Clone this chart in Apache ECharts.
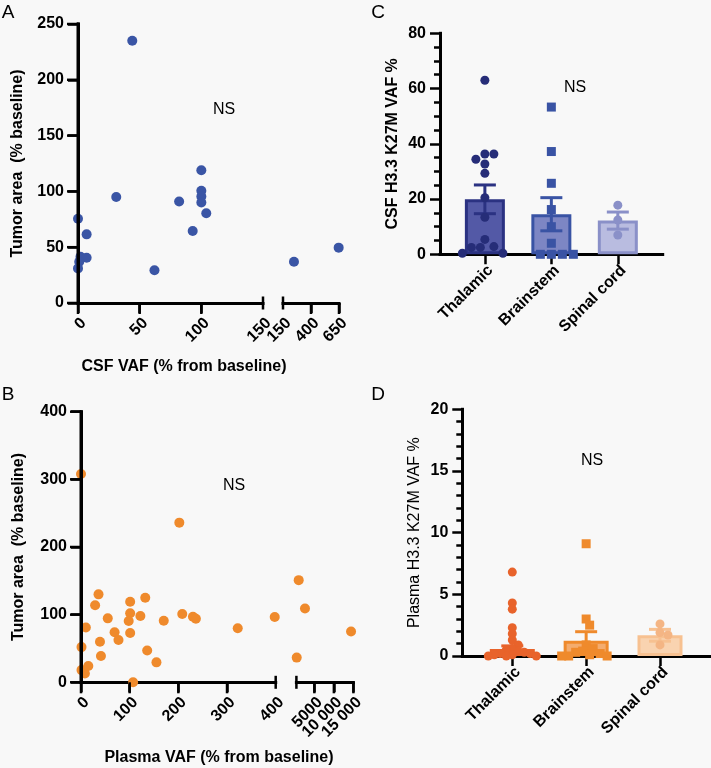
<!DOCTYPE html>
<html><head><meta charset="utf-8">
<script src="https://cdn.jsdelivr.net/npm/echarts@6/dist/echarts.min.js"></script>
<style>html,body{margin:0;padding:0;background:#f8f8f8}#c{width:711px;height:768px}</style>
</head><body><div id="c"></div>
<script>
// ---------- DATA ----------
// Panel A: CSF VAF (% from baseline) vs tumor area (% baseline)
const csfVafLow = [44, 100, 100, 100, 100, 104, 82, 93, 31, 0, 7, 2, 7, 1, 0, 62];
const tumorCsfLow = [235, 119, 100.5, 95.5, 90, 80.5, 91, 64.5, 95, 75.5, 61.5, 41.5, 40.6, 37, 31, 29.3];
const csfVafHigh = [248, 647];
const tumorCsfHigh = [37, 49.6];
const csfLowTicks = [0, 50, 100, 150];
const csfHighTicks = [150, 400, 650];
const csfBreak = 150;
const tumorTicksA = [0, 50, 100, 150, 200, 250];

// Panel B: Plasma VAF (% from baseline) vs tumor area (% baseline)
const plasmaVafLow = [0, 202, 1, 10, 1, 8, 15, 36, 29, 55, 39, 41, 69, 77, 101, 101, 101, 98, 122, 132, 107, 136, 155, 170, 208, 230, 236, 322, 398];
const tumorPlasmaLow = [308, 236, 52, 81, 18, 13, 24, 130, 114, 94.5, 60, 39, 74, 62.5, 73, 119, 102, 90.5, 98, 125, 0, 47, 29.5, 91, 101, 97, 94, 80, 96.5];
const plasmaVafHigh = [990, 2600, 480, 14400];
const tumorPlasmaHigh = [151, 109, 36.5, 75];
const plasmaLowTicks = [0, 100, 200, 300, 400];
const plasmaHighTicks = [5000, 10000, 15000];
const plasmaHighLabels = ['5000', '10 000', '15 000'];
const plasmaBreak = 400;
const tumorTicksB = [0, 100, 200, 300, 400];

// Panels C & D: by tumour location
const regions = ['Thalamic', 'Brainstem', 'Spinal cord'];
const csfThalamic = [63, 36.3, 36.3, 34.4, 32.7, 29.3, 20.5, 13.4, 5.4, 2.8, 2.5, 2.5, 0.4, 0.4];
const csfBrainstem = [53.3, 37.2, 25.7, 16.2, 10, 4, 0, 0, 0, 0];
const csfSpinal = [17.8, 12.4, 7];
const csfMean = [19.9, 14.5, 12.2];
const csfSem = [5.2, 6.0, 3.1];

const plasmaThalamic = [6.8, 4.3, 3.8, 2.3, 1.8, 1.3, 0.9, 0.6, 0.5, 0.4, 0.3, 0.2, 0.2, 0.1, 0.1, 0, 0, 0];
const plasmaBrainstem = [9.1, 3.0, 2.5, 0.9, 0.6, 0.4, 0.3, 0.2, 0.1, 0, 0, 0];
const plasmaSpinal = [2.6, 1.9, 1.7, 0.9];
const plasmaMean = [0.56, 1.24, 1.68];
const plasmaSem = [0.26, 0.73, 0.48];

// ---------- STYLE ----------
const FONT = '"Liberation Sans", Arial, Helvetica, sans-serif';
const BLUE = '#3a55a5', ORANGE = '#ef8a2c';
const cDot = ['#262d78', '#3953a4', '#8a90c8'];
const cBorder = ['#2b3282', '#3953a4', '#8a90c8'];
const cFill = ['#5359a6', '#7d86c4', '#b9bce0'];
const dDot = ['#e8632b', '#ef8a2c', '#f4b584'];
const dBorder = ['#e8632b', '#ef8a2c', '#f7c191'];
const dFill = ['#ec7a45', '#f4ac6e', '#f9d3b0'];

const G = {
  A1: {left: 78, top: 24, width: 185, height: 279},
  A2: {left: 283, top: 24, width: 56, height: 279},
  B1: {left: 81, top: 411.7, width: 194.7, height: 270.6},
  B2: {left: 296.4, top: 411.7, width: 57, height: 270.6},
  C: {left: 440, top: 33.3, width: 222.7, height: 221},
  D: {left: 462.3, top: 409.3, width: 247.7, height: 246.7}
};
const cRange = [-0.675, 2.675], dRange = [-0.677, 2.677];

const lbl = () => ({color: '#000', fontSize: 16, fontWeight: 'bold', fontFamily: FONT});
const line = () => ({show: true, onZero: false, lineStyle: {color: '#000', width: 3, cap: 'square'}});
function ticks(values, len) {
  return {show: true, length: len, customValues: values, lineStyle: {color: '#000', width: 2.5}};
}
function mainX(grid, min, max, tickVals, labelVals, fmt, margin) {
  return {gridIndex: grid, type: 'value', min, max, position: 'bottom', axisLine: line(),
    axisTick: ticks(tickVals, 10),
    axisLabel: Object.assign(lbl(), {show: !!labelVals, customValues: labelVals || [], rotate: 45, margin: margin,
      verticalAlign: 'top', interval: 0, hideOverlap: false, showMinLabel: true, showMaxLabel: true,
      formatter: fmt || (v => String(v))}),
    splitLine: {show: false}};
}
function valY(grid, min, max, interval, name, gap, bold, minorSplit) {
  const o = {gridIndex: grid, type: 'value', min, max, interval, position: 'left', axisLine: line(),
    axisTick: {show: true, length: 10, lineStyle: {color: '#000', width: 2.5}},
    axisLabel: Object.assign(lbl(), {margin: 14}), splitLine: {show: false},
    name, nameLocation: 'middle', nameGap: gap,
    nameTextStyle: {color: '#000', fontSize: 16, fontWeight: bold ? 'bold' : 'normal', fontFamily: FONT}};
  if (minorSplit) o.minorTick = {show: true, splitNumber: minorSplit, length: 6, lineStyle: {color: '#000', width: 2.5}};
  return o;
}
function hiddenY(grid, min, max) {
  return {gridIndex: grid, type: 'value', min, max, position: 'left',
    axisLine: {show: false, onZero: false}, axisTick: {show: false}, axisLabel: {show: false}, splitLine: {show: false}};
}
const zip = (a, b) => a.map((v, i) => [v, b[i]]);

// simple beeswarm layout (pixel based) for dot columns
function swarm(values, center, pxX, pxY, sep) {
  const step = sep / 2, placed = [], out = [];
  const order = values.map((v, i) => i).sort((a, b) => values[b] - values[a]);
  for (const i of order) {
    const py = values[i] * pxY;
    let px = 0;
    for (let n = 0; n < 80; n++) {
      const k = n === 0 ? 0 : (n % 2 ? Math.ceil(n / 2) : -Math.ceil(n / 2));
      const cand = k * step;
      if (placed.every(p => Math.hypot(p[0] - cand, p[1] - py) >= sep - 0.01)) { px = cand; break; }
    }
    placed.push([px, py]);
    out.push([center + px / pxX, values[i]]);
  }
  return out;
}
const cPX = G.C.width / (cRange[1] - cRange[0]), cPY = G.C.height / 80;
const dPX = G.D.width / (dRange[1] - dRange[0]), dPY = G.D.height / 20;

function barSeries(xi, yi, means, fills, borders, width) {
  return {type: 'bar', xAxisIndex: xi, yAxisIndex: yi, barWidth: width, z: 2,
    data: means.map((m, i) => ({value: [i, m], itemStyle: {color: fills[i], borderColor: borders[i], borderWidth: 3}}))};
}
function errSeries(xi, yi, means, sems, colors, capHalf) {
  return {type: 'custom', xAxisIndex: xi, yAxisIndex: yi, z: 3,
    data: means.map((m, i) => [i, m + sems[i], m - sems[i]]),
    renderItem(params, api) {
      const t = api.coord([api.value(0), api.value(1)]);
      const b = api.coord([api.value(0), api.value(2)]);
      const st = {stroke: colors[params.dataIndex], lineWidth: 3};
      return {type: 'group', children: [
        {type: 'line', shape: {x1: t[0], y1: t[1], x2: b[0], y2: b[1]}, style: st},
        {type: 'line', shape: {x1: t[0] - capHalf, y1: t[1], x2: t[0] + capHalf, y2: t[1]}, style: st},
        {type: 'line', shape: {x1: b[0] - capHalf, y1: b[1], x2: b[0] + capHalf, y2: b[1]}, style: st}
      ]};
    }};
}
// axis frame for the broken-axis scatter panels (y line + ticks, x ticks, break caps),
// positioned through the axis scales and painted on its own layer
function frame(xi, yi, xr, yr, yTicks, xTicks, caps) {
  return {type: 'custom', xAxisIndex: xi, yAxisIndex: yi, zlevel: 2, z: 10, silent: true, clip: false,
    data: [[xr[0], yr[0]]],
    renderItem(p, api) {
      const o = api.coord([xr[0], yr[0]]);
      const kids = [];
      const R = (x, y, w, h) => kids.push({type: 'rect', shape: {x, y, width: w, height: h}, style: {fill: '#000', opacity: 1}});
      if (yTicks) {
        const top = api.coord([xr[0], yr[1]]);
        R(o[0] - 1.5, top[1] - 1.5, 3, o[1] - top[1] + 3);
        yTicks.forEach(v => { const c = api.coord([xr[0], v]); R(o[0] - 11, c[1] - 1.25, 11, 2.5); });
      }
      (xTicks || []).forEach(v => { const c = api.coord([v, yr[0]]); R(c[0] - 1.25, o[1], 2.5, 11); });
      (caps || []).forEach(v => { const c = api.coord([v, yr[0]]); R(c[0] - 1.25, o[1] - 6.5, 2.5, 13); });
      return {type: 'group', children: kids};
    }};
}
// tick labels that are allowed to overlap (as in the reference)
function tickText(xi, yi, vals, labels, gap) {
  return {type: 'custom', xAxisIndex: xi, yAxisIndex: yi, z: 5, silent: true, clip: false,
    data: vals.map(v => [v, 0]),
    renderItem(p, api) {
      const c = api.coord([api.value(0), api.value(1)]);
      return {type: 'text', x: c[0], y: c[1] + gap, rotation: Math.PI / 4,
        style: {text: labels[p.dataIndex], fill: '#000', font: `bold 16px ${FONT}`, align: 'right', verticalAlign: 'top'}};
    }};
}
function dots(xi, yi, data, color, symbol, size) {
  return {type: 'scatter', xAxisIndex: xi, yAxisIndex: yi, z: 4, symbol, symbolSize: size,
    itemStyle: {color, opacity: 1}, data};
}

const xAxes = [
  mainX(0, 0, 150, [0, 50, 100], csfLowTicks, null, 12),
  mainX(1, 150, 650, [400, 650], csfHighTicks, null, 12),
  mainX(2, 0, 400, [0, 100, 200, 300], plasmaLowTicks, null, 12),
  mainX(3, 400, 15000, plasmaHighTicks, null),
  mainX(4, cRange[0], cRange[1], [0, 1, 2], [0, 1, 2], v => regions[Math.round(v)], 8),
  mainX(5, dRange[0], dRange[1], [0, 1, 2], [0, 1, 2], v => regions[Math.round(v)], 8)
];
const yA = valY(0, 0, 250, 50, 'Tumor area  (% baseline)', 52, true);
const yBm = valY(2, 0, 400, 100, 'Tumor area  (% baseline)', 54, true);
[yA, yBm].forEach(a => { a.zlevel = 1; a.z = 10; });
const yAxes = [
  yA,
  hiddenY(1, 0, 250),
  yBm,
  hiddenY(3, 0, 400),
  valY(4, 0, 80, 20, 'CSF H3.3 K27M VAF %', 39, true, 4),
  valY(5, 0, 20, 5, 'Plasma H3.3 K27M VAF %', 40, false, 5)
];

const series = [
  frame(0, 0, [0, 150], [0, 250], tumorTicksA, [0, 50, 100], [csfBreak]),
  frame(1, 1, [150, 650], [0, 250], null, [400, 650], [csfBreak]),
  frame(2, 2, [0, 400], [0, 400], tumorTicksB, [0, 100, 200, 300], [plasmaBreak]),
  frame(3, 3, [400, 15000], [0, 400], null, plasmaHighTicks, [plasmaBreak]),
  tickText(3, 3, plasmaHighTicks, plasmaHighLabels, 12),
  dots(0, 0, zip(csfVafLow, tumorCsfLow), BLUE, 'circle', 10),
  dots(1, 1, zip(csfVafHigh, tumorCsfHigh), BLUE, 'circle', 10),
  dots(2, 2, zip(plasmaVafLow, tumorPlasmaLow), ORANGE, 'circle', 10),
  dots(3, 3, zip(plasmaVafHigh, tumorPlasmaHigh), ORANGE, 'circle', 10),
  barSeries(4, 4, csfMean, cFill, cBorder, 40),
  errSeries(4, 4, csfMean, csfSem, cBorder, 11),
  dots(4, 4, swarm(csfThalamic, 0, cPX, cPY, 9), cDot[0], 'circle', 9),
  dots(4, 4, swarm(csfBrainstem, 1, cPX, cPY, 11), cDot[1], 'rect', 9),
  dots(4, 4, swarm(csfSpinal, 2, cPX, cPY, 9), cDot[2], 'circle', 9),
  barSeries(5, 5, plasmaMean, dFill, dBorder, 45),
  errSeries(5, 5, plasmaMean, plasmaSem, dBorder, 11),
  dots(5, 5, swarm(plasmaThalamic, 0, dPX, dPY, 6), dDot[0], 'circle', 9),
  dots(5, 5, swarm(plasmaBrainstem, 1, dPX, dPY, 7), dDot[1], 'rect', 9),
  dots(5, 5, swarm(plasmaSpinal, 2, dPX, dPY, 8), dDot[2], 'circle', 9)
];

function txt(x, y, s, size, weight) {
  return {type: 'text', x, y, style: {text: s, fill: '#000', font: `${weight || 'normal'} ${size}px ${FONT}`, textAlign: 'center', textVerticalAlign: 'middle'}};
}

const chart = echarts.init(document.getElementById('c'), null, {renderer: 'canvas'});
chart.setOption({
  backgroundColor: '#f8f8f8',
  animation: false,
  grid: [G.A1, G.A2, G.B1, G.B2, G.C, G.D].map(g => Object.assign({containLabel: false}, g)),
  xAxis: xAxes,
  yAxis: yAxes,
  series,
  graphic: [
    txt(8, 13, 'A', 19), txt(8, 395, 'B', 19), txt(378, 13, 'C', 19), txt(378, 395, 'D', 19),
    txt(224, 110, 'NS', 16), txt(234, 486, 'NS', 16), txt(575, 88, 'NS', 16), txt(592, 461, 'NS', 16),
    txt(184, 367, 'CSF VAF (% from baseline)', 16, 'bold'),
    txt(219, 758, 'Plasma VAF (% from baseline)', 16, 'bold')
  ]
});
</script></body></html>
